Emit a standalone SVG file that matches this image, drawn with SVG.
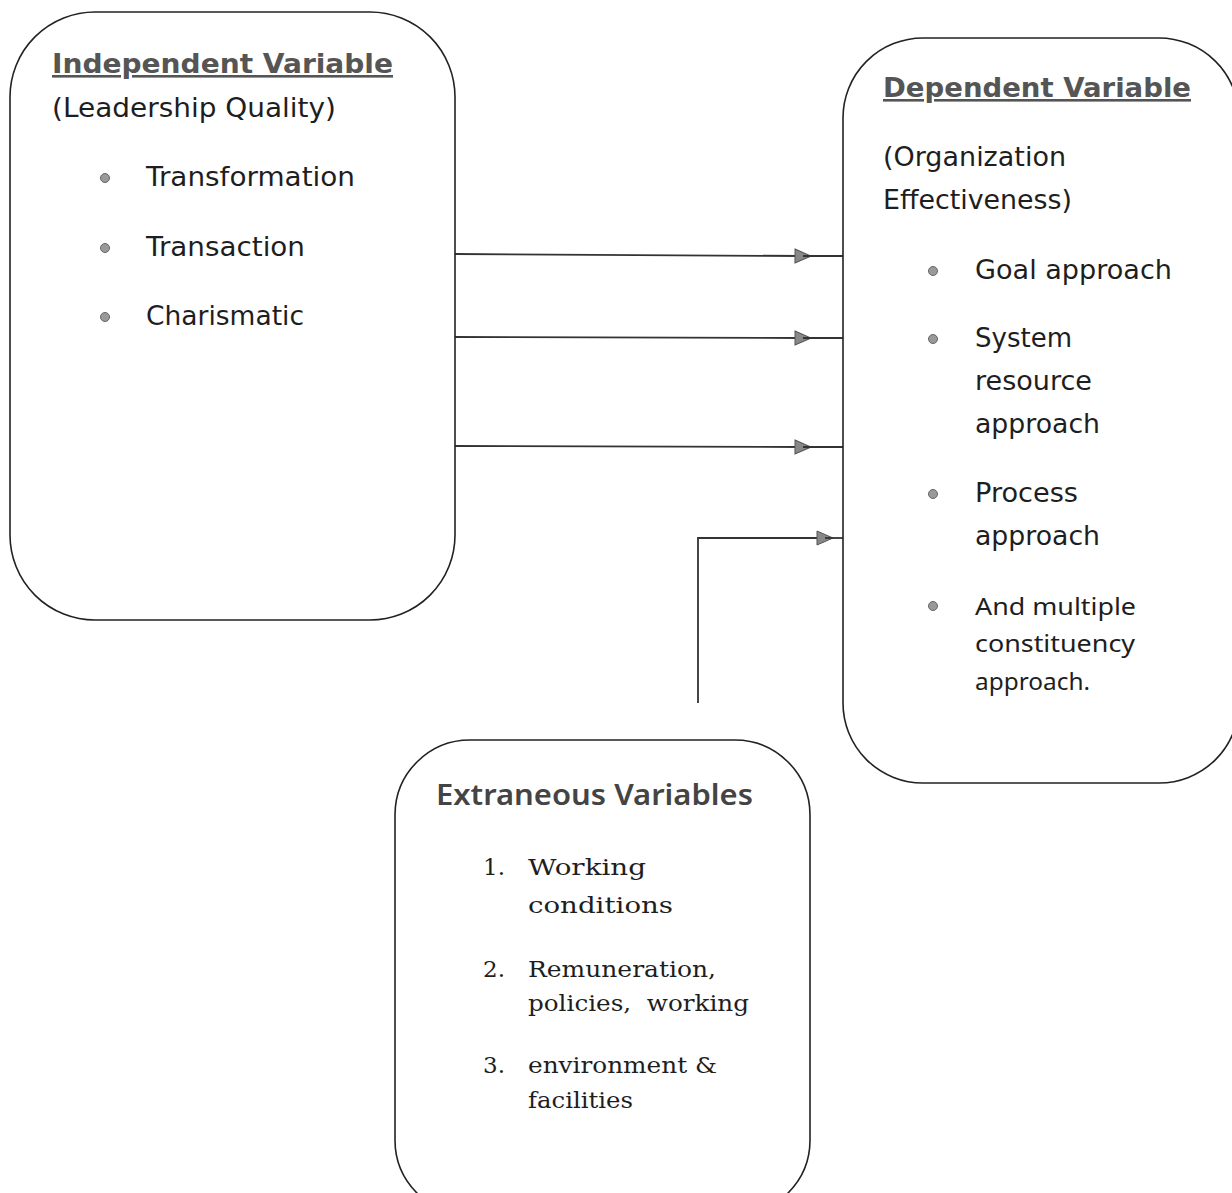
<svg xmlns="http://www.w3.org/2000/svg" width="1232" height="1193" viewBox="0 0 1232 1193">
<style>
.box{fill:#fff;stroke:#222;stroke-width:1.6}
.conn{stroke:#333;stroke-width:1.8;fill:none}
.v{font-family:"DejaVu Sans",Verdana,sans-serif;font-size:26px;fill:#1e1e1e}
.vb{font-family:"DejaVu Sans",Verdana,sans-serif;font-size:26px;font-weight:bold;fill:#555;text-decoration:underline}
.c{font-family:"Noto Sans","Open Sans",sans-serif;font-size:24px;fill:#1e1e1e}
.cb{font-family:"Noto Sans","Open Sans",sans-serif;font-size:29px;font-weight:600;fill:#444}
.s{font-family:"DejaVu Serif","Liberation Serif",serif;font-size:23px;fill:#1e1e1e}
.dot{fill:#999;stroke:#666;stroke-width:1}
</style>
<defs>
<marker id="ah" markerWidth="18" markerHeight="16" refX="9" refY="8" orient="auto" markerUnits="userSpaceOnUse">
<path d="M1,1 L17,8 L1,15 Z" fill="#888" stroke="#555" stroke-width="1"/>
</marker>
</defs>
<g id="connectors">
<path class="conn" d="M455,254 L803,256" marker-end="url(#ah)"/>
<path class="conn" d="M803,256 L843,256"/>
<path class="conn" d="M455,337 L803,338" marker-end="url(#ah)"/>
<path class="conn" d="M803,338 L843,338"/>
<path class="conn" d="M455,446 L803,447" marker-end="url(#ah)"/>
<path class="conn" d="M803,447 L843,447"/>
<path class="conn" d="M698,703 L698,538 L825,538" marker-end="url(#ah)"/>
<path class="conn" d="M825,538 L843,538"/>
</g>
<g id="independent">
<rect class="box" x="10" y="12" width="445" height="608" rx="85" ry="85"/>
<text class="vb" x="52" y="73" textLength="341" lengthAdjust="spacingAndGlyphs">Independent Variable</text>
<text class="v" x="52" y="117" textLength="284" lengthAdjust="spacingAndGlyphs">(Leadership Quality)</text>
<circle class="dot" cx="105" cy="178" r="4.5"/>
<text class="v" x="146" y="186" textLength="209" lengthAdjust="spacingAndGlyphs">Transformation</text>
<circle class="dot" cx="105" cy="248" r="4.5"/>
<text class="v" x="146" y="256" textLength="159" lengthAdjust="spacingAndGlyphs">Transaction</text>
<circle class="dot" cx="105" cy="317" r="4.5"/>
<text class="v" x="146" y="325" textLength="158" lengthAdjust="spacingAndGlyphs">Charismatic</text>
</g>
<g id="dependent">
<rect class="box" x="843" y="38" width="396" height="745" rx="80" ry="80"/>
<text class="vb" x="883" y="97" textLength="308" lengthAdjust="spacingAndGlyphs">Dependent Variable</text>
<text class="v" x="883" y="166" textLength="183" lengthAdjust="spacingAndGlyphs">(Organization</text>
<text class="v" x="883" y="209" textLength="189" lengthAdjust="spacingAndGlyphs">Effectiveness)</text>
<circle class="dot" cx="933" cy="271" r="4.5"/>
<text class="v" x="975" y="279" textLength="197" lengthAdjust="spacingAndGlyphs">Goal approach</text>
<circle class="dot" cx="933" cy="339" r="4.5"/>
<text class="v" x="975" y="347" textLength="97" lengthAdjust="spacingAndGlyphs">System</text>
<text class="v" x="975" y="390" textLength="117" lengthAdjust="spacingAndGlyphs">resource</text>
<text class="v" x="975" y="433" textLength="125" lengthAdjust="spacingAndGlyphs">approach</text>
<circle class="dot" cx="933" cy="494" r="4.5"/>
<text class="v" x="975" y="502" textLength="103" lengthAdjust="spacingAndGlyphs">Process</text>
<text class="v" x="975" y="545" textLength="125" lengthAdjust="spacingAndGlyphs">approach</text>
<circle class="dot" cx="933" cy="606" r="4.5"/>
<text class="c" x="975" y="615" textLength="161" lengthAdjust="spacingAndGlyphs">And multiple</text>
<text class="c" x="975" y="652" textLength="160" lengthAdjust="spacingAndGlyphs">constituency</text>
<text class="c" x="975" y="690" textLength="115" lengthAdjust="spacingAndGlyphs">approach.</text>
</g>
<g id="extraneous">
<rect class="box" x="395" y="740" width="415" height="475" rx="75" ry="75"/>
<text class="cb" x="436" y="805" textLength="317" lengthAdjust="spacingAndGlyphs">Extraneous Variables</text>
<text class="s" x="483" y="875">1.</text>
<text class="s" x="528" y="875" textLength="118" lengthAdjust="spacingAndGlyphs">Working</text>
<text class="s" x="528" y="913" textLength="145" lengthAdjust="spacingAndGlyphs">conditions</text>
<text class="s" x="483" y="977">2.</text>
<text class="s" x="528" y="977" textLength="188" lengthAdjust="spacingAndGlyphs">Remuneration,</text>
<text class="s" x="528" y="1011" textLength="221" lengthAdjust="spacingAndGlyphs" xml:space="preserve">policies,  working</text>
<text class="s" x="483" y="1073">3.</text>
<text class="s" x="528" y="1073" textLength="189" lengthAdjust="spacingAndGlyphs">environment &amp;</text>
<text class="s" x="528" y="1108" textLength="105" lengthAdjust="spacingAndGlyphs">facilities</text>
</g>
</svg>
